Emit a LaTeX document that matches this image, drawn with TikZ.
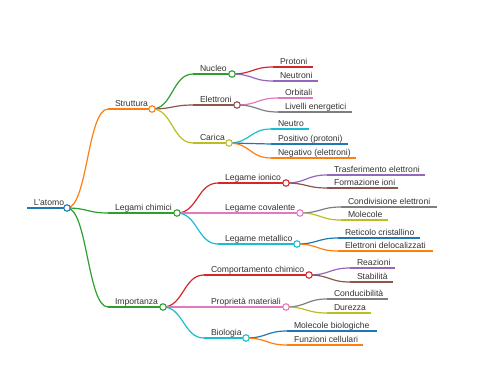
\documentclass[tikz,border=0pt]{standalone}
\usepackage{fontspec}
\setmainfont{Liberation Sans}
\usetikzlibrary{calc}
\definecolor{cBlue}{HTML}{1F77B4}
\definecolor{cOrange}{HTML}{FF7F0E}
\definecolor{cGreen}{HTML}{2CA02C}
\definecolor{cRed}{HTML}{D62728}
\definecolor{cPurple}{HTML}{9467BD}
\definecolor{cBrown}{HTML}{8C564B}
\definecolor{cPink}{HTML}{E377C2}
\definecolor{cGray}{HTML}{7F7F7F}
\definecolor{cOlive}{HTML}{BCBD22}
\definecolor{cCyan}{HTML}{17BECF}
\definecolor{txt}{HTML}{333333}
\tikzset{
  mmline/.style={line width=1.2pt},
  mmlabel/.style={anchor=base west, inner sep=0pt, text=txt, font=\fontsize{8.6}{10}\selectfont},
  mmdot/.style={circle, draw=#1, fill=white, line width=1.1pt, minimum size=6.5pt, inner sep=0pt},
}
% name, x0, x1, y, colour, text
\newcommand\mmnode[6]{%
  \coordinate (#1-s) at (#2,#4);
  \coordinate (#1) at (#3,#4);
  \draw[mmline,#5] (#1-s) -- (#1);
  \node[mmlabel] (#1-t) at ($(#1-s)+(6.8,-2.8)$) {#6};
}
% parent, child, colour
\newcommand\mmlink[3]{%
  \draw[mmline,#3] let \p1=(#1), \p2=(#2-s) in
    (#1) .. controls ({(\x1+\x2)/2},\y1) and ({(\x1+\x2)/2},\y2) .. (#2-s);
}
\begin{document}
\begin{tikzpicture}[x=1pt,y=-1pt]
\useasboundingbox (0,0) rectangle (480,384);
% root and level 1
\mmnode{root}{27}{67}{208}{cBlue}{L'atomo}
\mmnode{str}{108}{152}{109}{cOrange}{Struttura}
\mmnode{leg}{108}{177}{213}{cGreen}{Legami chimici}
\mmnode{imp}{108}{163}{307}{cGreen}{Importanza}
% level 2
\mmnode{nuc}{193}{232}{74}{cGreen}{Nucleo}
\mmnode{ele}{193}{237}{105}{cBrown}{Elettroni}
\mmnode{car}{193}{229}{143}{cOlive}{Carica}
\mmnode{ion}{218}{286}{183}{cRed}{Legame ionico}
\mmnode{cov}{218}{300}{213}{cPink}{Legame covalente}
\mmnode{met}{218}{297}{244}{cCyan}{Legame metallico}
\mmnode{com}{204}{309}{275}{cRed}{Comportamento chimico}
\mmnode{pro}{204}{286}{307}{cPink}{Proprietà materiali}
\mmnode{bio}{204}{246}{338}{cCyan}{Biologia}
% level 3
\mmnode{prot}{273}{313}{67}{cRed}{Protoni}
\mmnode{neut}{273}{318}{81}{cPurple}{Neutroni}
\mmnode{orb}{278}{313}{98}{cPink}{Orbitali}
\mmnode{liv}{278}{352}{112}{cGray}{Livelli energetici}
\mmnode{nro}{271}{309}{129}{cCyan}{Neutro}
\mmnode{pos}{271}{348}{144}{cBlue}{Positivo (protoni)}
\mmnode{neg}{271}{356}{158}{cOrange}{Negativo (elettroni)}
\mmnode{tra}{327}{425}{175}{cPurple}{Trasferimento elettroni}
\mmnode{for}{327}{398}{188}{cBrown}{Formazione ioni}
\mmnode{cond}{341}{437}{207}{cGray}{Condivisione elettroni}
\mmnode{mol}{341}{388}{220}{cOlive}{Molecole}
\mmnode{ret}{338}{420}{238}{cBlue}{Reticolo cristallino}
\mmnode{del}{338}{433}{251}{cOrange}{Elettroni delocalizzati}
\mmnode{rea}{350}{395}{268}{cPurple}{Reazioni}
\mmnode{sta}{350}{393}{282}{cBrown}{Stabilità}
\mmnode{cdu}{327}{388}{299}{cGray}{Conducibilità}
\mmnode{dur}{327}{371}{313}{cOlive}{Durezza}
\mmnode{mbi}{287}{377}{331}{cBlue}{Molecole biologiche}
\mmnode{fun}{287}{363}{345}{cOrange}{Funzioni cellulari}
% links
\mmlink{root}{str}{cOrange}
\mmlink{root}{leg}{cGreen}
\mmlink{root}{imp}{cGreen}
\mmlink{str}{nuc}{cGreen}
\mmlink{str}{ele}{cBrown}
\mmlink{str}{car}{cOlive}
\mmlink{leg}{ion}{cRed}
\mmlink{leg}{cov}{cPink}
\mmlink{leg}{met}{cCyan}
\mmlink{imp}{com}{cRed}
\mmlink{imp}{pro}{cPink}
\mmlink{imp}{bio}{cCyan}
\mmlink{nuc}{prot}{cRed}
\mmlink{nuc}{neut}{cPurple}
\mmlink{ele}{orb}{cPink}
\mmlink{ele}{liv}{cGray}
\mmlink{car}{nro}{cCyan}
\mmlink{car}{pos}{cBlue}
\mmlink{car}{neg}{cOrange}
\mmlink{ion}{tra}{cPurple}
\mmlink{ion}{for}{cBrown}
\mmlink{cov}{cond}{cGray}
\mmlink{cov}{mol}{cOlive}
\mmlink{met}{ret}{cBlue}
\mmlink{met}{del}{cOrange}
\mmlink{com}{rea}{cPurple}
\mmlink{com}{sta}{cBrown}
\mmlink{pro}{cdu}{cGray}
\mmlink{pro}{dur}{cOlive}
\mmlink{bio}{mbi}{cBlue}
\mmlink{bio}{fun}{cOrange}
% circles
\node[mmdot=cBlue] (root-c) at (root) {};
\node[mmdot=cOrange] (str-c) at (str) {};
\node[mmdot=cGreen] (leg-c) at (leg) {};
\node[mmdot=cGreen] (imp-c) at (imp) {};
\node[mmdot=cGreen] (nuc-c) at (nuc) {};
\node[mmdot=cBrown] (ele-c) at (ele) {};
\node[mmdot=cOlive] (car-c) at (car) {};
\node[mmdot=cRed] (ion-c) at (ion) {};
\node[mmdot=cPink] (cov-c) at (cov) {};
\node[mmdot=cCyan] (met-c) at (met) {};
\node[mmdot=cRed] (com-c) at (com) {};
\node[mmdot=cPink] (pro-c) at (pro) {};
\node[mmdot=cCyan] (bio-c) at (bio) {};
\end{tikzpicture}
\end{document}
